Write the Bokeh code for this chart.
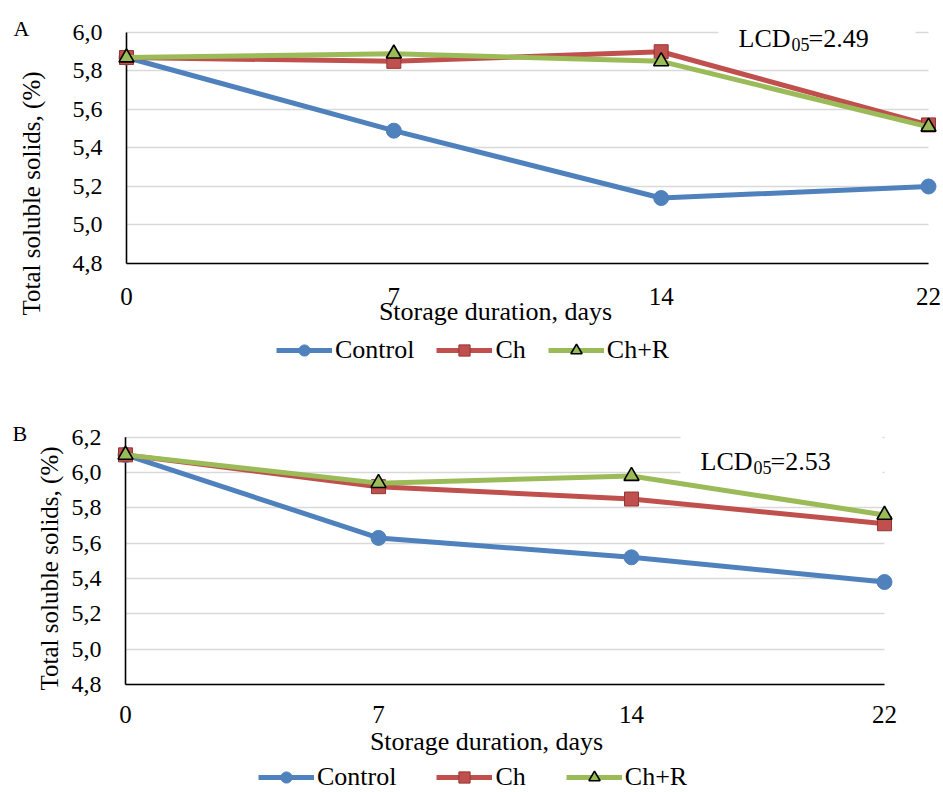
import math
from bokeh.plotting import figure
from bokeh.models import (Range1d, FixedTicker, Label, Grid,
                          BoxAnnotation, Legend, LegendItem)
from bokeh.core.properties import value
from bokeh.layouts import column
from bokeh.embed import file_html
from bokeh.resources import INLINE

# ---------------- data ----------------
days = ["0", "7", "14", "22"]
series_names = ["Control", "Ch", "Ch+R"]

a_control = [5.87, 5.49, 5.14, 5.20]
a_ch = [5.87, 5.85, 5.90, 5.52]
a_chr = [5.87, 5.89, 5.85, 5.51]

b_control = [6.10, 5.63, 5.52, 5.38]
b_ch = [6.10, 5.92, 5.85, 5.71]
b_chr = [6.10, 5.94, 5.98, 5.76]

a_yticks = [4.8, 5.0, 5.2, 5.4, 5.6, 5.8, 6.0]
b_yticks = [4.8, 5.0, 5.2, 5.4, 5.6, 5.8, 6.0, 6.2]

a_lcd = "2.49"
b_lcd = "2.53"
x_title = "Storage duration, days"
y_title = "Total soluble solids, (%)"

FONT = "Liberation Serif"
BLUE = "#4F81BD"
RED = "#C0504D"
GREEN = "#9BBB59"


def make_panel(letter, values, yticks, lcd, cfg):
    xs = list(range(len(days)))
    p = figure(width=943, height=cfg["height"], output_backend="svg",
               toolbar_location=None,
               x_axis_location=None, y_axis_location=None,
               x_range=Range1d(*cfg["xr"]), y_range=Range1d(*cfg["yr"]),
               min_border=0)
    p.outline_line_color = None
    p.background_fill_color = "white"
    p.border_fill_color = "white"
    # drop any default grids
    p.center = [c for c in p.center if not isinstance(c, Grid)]

    # horizontal grid lines at the y ticks, limited to the data span
    grid = Grid(dimension=1, ticker=FixedTicker(ticks=yticks),
                grid_line_color="#D9D9D9", grid_line_width=1.3)
    try:
        grid.cross_bounds = (xs[0], xs[-1])
    except Exception:
        pass
    p.add_layout(grid)

    # axis lines
    p.segment(x0=[xs[0]], y0=[yticks[0]], x1=[xs[0]], y1=[yticks[-1]],
              line_color="black", line_width=1.6)
    p.segment(x0=[xs[0]], y0=[yticks[0]], x1=[xs[-1]], y1=[yticks[0]],
              line_color="black", line_width=1.6)

    # tick labels
    ylabels = [("%.1f" % t).replace(".", ",") for t in yticks]
    p.text(x=[xs[0]] * len(yticks), y=yticks, text=ylabels,
           x_offset=-24, y_offset=0, text_align="right", text_baseline="alphabetic",
           text_font=value(FONT), text_font_size=value("24px"), text_color="black")
    p.text(x=xs, y=[yticks[0]] * len(xs), text=days,
           y_offset=cfg["xtick_off"], text_align="center", text_baseline="alphabetic",
           text_font=value(FONT), text_font_size=value("25px"), text_color="black")

    # white box behind LCD label
    p.add_layout(BoxAnnotation(left=cfg["box"][0], right=cfg["box"][1],
                               bottom=cfg["box"][2], top=cfg["box"][3],
                               left_units="screen", right_units="screen",
                               bottom_units="screen", top_units="screen",
                               fill_color="white", fill_alpha=1.0,
                               line_alpha=0))

    # series
    ctrl, ch, chr_ = values
    l1 = p.line(xs, ctrl, line_color=BLUE, line_width=5)
    s1 = p.scatter(xs, ctrl, marker="circle", size=15, fill_color=BLUE, line_color=BLUE)
    l2 = p.line(xs, ch, line_color=RED, line_width=5)
    s2 = p.scatter(xs, ch, marker="square", size=14, fill_color=RED,
                   line_color="#943634", line_width=1)
    l3 = p.line(xs, chr_, line_color=GREEN, line_width=5)
    s3 = p.scatter(xs, chr_, marker="triangle", size=15, fill_color=GREEN,
                   line_color="black", line_width=1.6)
    items = [LegendItem(label=series_names[0], renderers=[l1, s1]),
             LegendItem(label=series_names[1], renderers=[l2, s2]),
             LegendItem(label=series_names[2], renderers=[l3, s3])]
    leg = Legend(items=items, orientation="horizontal", location=cfg["leg"],
                 border_line_color=None, background_fill_alpha=0,
                 padding=0, margin=0, spacing=cfg["spacing"],
                 glyph_width=56, glyph_height=28, label_height=28, label_standoff=3,
                 label_text_font=FONT, label_text_font_size="26px",
                 label_text_color="black")
    p.add_layout(leg)

    # texts
    def lab(x, y, text, size, **kw):
        p.add_layout(Label(x=x, y=y, x_units="screen", y_units="screen", text=text,
                           text_font=FONT, text_font_size=size, text_color="black",
                           text_baseline="alphabetic", **kw))

    lx, ly = cfg["lcd"]
    lab(lx, ly, "LCD", "26px")
    lab(lx + 53, ly - 6, "05", "18px")
    lab(lx + 70, ly, "=" + lcd, "26px")
    lab(cfg["letter"][0], cfg["letter"][1], letter, "22px")
    lab(cfg["xt"][0], cfg["xt"][1], x_title, "26px", text_align="center")
    lab(cfg["yt"][0], cfg["yt"][1], y_title, "25px", text_align="center",
        angle=math.pi / 2)
    return p


cfg_a = dict(height=400, xr=(-0.4713, 3.0561), yr=(4.0883, 6.1662), xtick_off=33,
             box=(718, 915, 340, 392), leg=(276, 35), spacing=22,
             lcd=(738, 362), letter=(13, 372), xt=(495, 89), yt=(31, 207))
cfg_b = dict(height=392, xr=(-0.4941, 3.2332), yr=(4.1886, 6.4078), xtick_off=30,
             box=(680, 882, 315, 367), leg=(258, 0), spacing=40,
             lcd=(700, 331), letter=(12, 359), xt=(486, 51), yt=(49, 224))

pa = make_panel("A", (a_control, a_ch, a_chr), a_yticks, a_lcd, cfg_a)
pb = make_panel("B", (b_control, b_ch, b_chr), b_yticks, b_lcd, cfg_b)

layout = column(pa, pb, spacing=0)
open("out.html", "w").write(file_html(layout, INLINE))
